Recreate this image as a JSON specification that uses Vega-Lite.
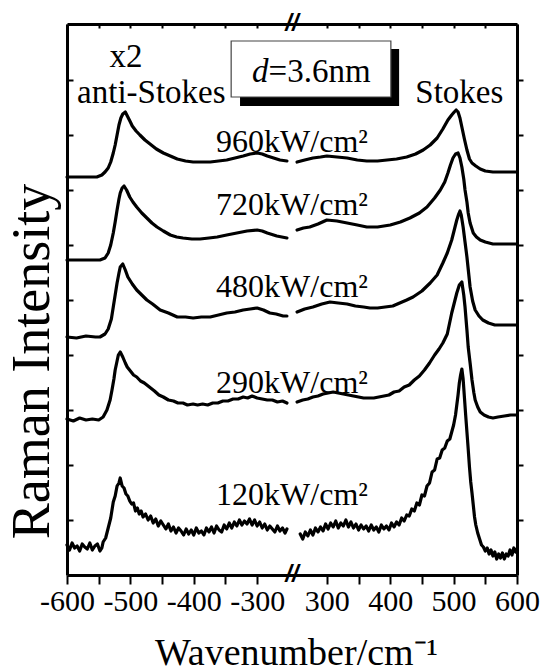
{
"$schema": "https://vega.github.io/schema/vega-lite/v6.json",
"width": 450,
"height": 551,
"autosize": {"type": "none"},
"padding": {"left": 67, "top": 24, "right": 25, "bottom": 97},
"background": "white",
"config": {
  "view": {"stroke": null},
  "font": "Liberation Serif",
  "axis": {"grid": false, "domainColor": "#000", "domainWidth": 3, "tickColor": "#000", "tickWidth": 2, "labelColor": "#000", "titleColor": "#000", "titleFontWeight": "normal", "labelFont": "Liberation Serif", "titleFont": "Liberation Serif"}
},
"datasets": {
"spec": [
{"s":"960L","x":-600,"y":398},{"s":"960L","x":-570,"y":398},{"s":"960L","x":-553,"y":398},{"s":"960L","x":-545,"y":400},{"s":"960L","x":-540,"y":403},{"s":"960L","x":-535,"y":407},{"s":"960L","x":-531,"y":413},{"s":"960L","x":-527,"y":422},{"s":"960L","x":-524,"y":430},{"s":"960L","x":-521,"y":440},{"s":"960L","x":-518,"y":450},{"s":"960L","x":-515,"y":457},{"s":"960L","x":-512,"y":461},{"s":"960L","x":-508,"y":463},{"s":"960L","x":-504,"y":458},{"s":"960L","x":-500,"y":453},{"s":"960L","x":-497,"y":449},{"s":"960L","x":-491,"y":444},{"s":"960L","x":-485,"y":440},{"s":"960L","x":-477,"y":435},{"s":"960L","x":-469,"y":431},{"s":"960L","x":-459,"y":426},{"s":"960L","x":-448,"y":422},{"s":"960L","x":-437,"y":419},{"s":"960L","x":-426,"y":416},{"s":"960L","x":-413,"y":414},{"s":"960L","x":-401,"y":413},{"s":"960L","x":-388,"y":413},{"s":"960L","x":-374,"y":413},{"s":"960L","x":-361,"y":414},{"s":"960L","x":-348,"y":415},{"s":"960L","x":-335,"y":417},{"s":"960L","x":-322,"y":419},{"s":"960L","x":-311,"y":421},{"s":"960L","x":-300,"y":422},{"s":"960L","x":-292,"y":421},{"s":"960L","x":-284,"y":419},{"s":"960L","x":-274,"y":417},{"s":"960L","x":-264,"y":415},{"s":"960L","x":-253,"y":414},
{"s":"960R","x":253,"y":413},{"s":"960R","x":265,"y":415},{"s":"960R","x":278,"y":417},{"s":"960R","x":290,"y":418},{"s":"960R","x":300,"y":419},{"s":"960R","x":316,"y":418},{"s":"960R","x":332,"y":417},{"s":"960R","x":348,"y":415},{"s":"960R","x":363,"y":414},{"s":"960R","x":380,"y":414},{"s":"960R","x":395,"y":415},{"s":"960R","x":410,"y":416},{"s":"960R","x":426,"y":418},{"s":"960R","x":440,"y":421},{"s":"960R","x":452,"y":425},{"s":"960R","x":463,"y":430},{"s":"960R","x":474,"y":437},{"s":"960R","x":483,"y":446},{"s":"960R","x":491,"y":455},{"s":"960R","x":497,"y":460},{"s":"960R","x":501,"y":463},{"s":"960R","x":504,"y":465},{"s":"960R","x":507,"y":463},{"s":"960R","x":510,"y":457},{"s":"960R","x":513,"y":448},{"s":"960R","x":517,"y":436},{"s":"960R","x":521,"y":425},{"s":"960R","x":525,"y":416},{"s":"960R","x":529,"y":412},{"s":"960R","x":535,"y":409},{"s":"960R","x":542,"y":406},{"s":"960R","x":550,"y":404},{"s":"960R","x":562,"y":403},{"s":"960R","x":580,"y":403},{"s":"960R","x":600,"y":403},
{"s":"720L","x":-600,"y":315},{"s":"720L","x":-570,"y":315},{"s":"720L","x":-548,"y":315},{"s":"720L","x":-540,"y":317},{"s":"720L","x":-535,"y":322},{"s":"720L","x":-531,"y":330},{"s":"720L","x":-527,"y":342},{"s":"720L","x":-524,"y":353},{"s":"720L","x":-521,"y":365},{"s":"720L","x":-518,"y":376},{"s":"720L","x":-516,"y":382},{"s":"720L","x":-513,"y":387},{"s":"720L","x":-510,"y":389},{"s":"720L","x":-506,"y":385},{"s":"720L","x":-501,"y":378},{"s":"720L","x":-496,"y":373},{"s":"720L","x":-490,"y":368},{"s":"720L","x":-482,"y":362},{"s":"720L","x":-474,"y":357},{"s":"720L","x":-466,"y":352},{"s":"720L","x":-458,"y":348},{"s":"720L","x":-448,"y":344},{"s":"720L","x":-437,"y":340},{"s":"720L","x":-427,"y":338},{"s":"720L","x":-417,"y":337},{"s":"720L","x":-403,"y":336},{"s":"720L","x":-390,"y":336},{"s":"720L","x":-376,"y":337},{"s":"720L","x":-363,"y":338},{"s":"720L","x":-348,"y":340},{"s":"720L","x":-332,"y":342},{"s":"720L","x":-316,"y":344},{"s":"720L","x":-300,"y":345},{"s":"720L","x":-292,"y":344},{"s":"720L","x":-284,"y":342},{"s":"720L","x":-269,"y":339},{"s":"720L","x":-253,"y":337},
{"s":"720R","x":253,"y":345},{"s":"720R","x":263,"y":347},{"s":"720R","x":273,"y":348},{"s":"720R","x":286,"y":351},{"s":"720R","x":300,"y":355},{"s":"720R","x":316,"y":354},{"s":"720R","x":332,"y":352},{"s":"720R","x":348,"y":350},{"s":"720R","x":363,"y":348},{"s":"720R","x":380,"y":348},{"s":"720R","x":400,"y":350},{"s":"720R","x":416,"y":353},{"s":"720R","x":431,"y":357},{"s":"720R","x":446,"y":362},{"s":"720R","x":458,"y":368},{"s":"720R","x":470,"y":377},{"s":"720R","x":479,"y":385},{"s":"720R","x":486,"y":393},{"s":"720R","x":491,"y":402},{"s":"720R","x":495,"y":410},{"s":"720R","x":499,"y":417},{"s":"720R","x":503,"y":421},{"s":"720R","x":507,"y":422},{"s":"720R","x":510,"y":417},{"s":"720R","x":513,"y":408},{"s":"720R","x":516,"y":396},{"s":"720R","x":518,"y":385},{"s":"720R","x":521,"y":373},{"s":"720R","x":523,"y":362},{"s":"720R","x":526,"y":352},{"s":"720R","x":531,"y":342},{"s":"720R","x":536,"y":338},{"s":"720R","x":542,"y":335},{"s":"720R","x":550,"y":333},{"s":"720R","x":562,"y":331},{"s":"720R","x":580,"y":331},{"s":"720R","x":600,"y":331},
{"s":"480L","x":-600,"y":238},{"s":"480L","x":-585,"y":237},{"s":"480L","x":-570,"y":239},{"s":"480L","x":-555,"y":238},{"s":"480L","x":-548,"y":238},{"s":"480L","x":-540,"y":241},{"s":"480L","x":-535,"y":246},{"s":"480L","x":-530,"y":256},{"s":"480L","x":-527,"y":268},{"s":"480L","x":-524,"y":280},{"s":"480L","x":-521,"y":292},{"s":"480L","x":-518,"y":302},{"s":"480L","x":-516,"y":308},{"s":"480L","x":-512,"y":311},{"s":"480L","x":-508,"y":305},{"s":"480L","x":-504,"y":298},{"s":"480L","x":-497,"y":291},{"s":"480L","x":-490,"y":285},{"s":"480L","x":-482,"y":280},{"s":"480L","x":-474,"y":275},{"s":"480L","x":-465,"y":271},{"s":"480L","x":-453,"y":265},{"s":"480L","x":-440,"y":262},{"s":"480L","x":-426,"y":258},{"s":"480L","x":-413,"y":258},{"s":"480L","x":-401,"y":257},{"s":"480L","x":-388,"y":258},{"s":"480L","x":-374,"y":258},{"s":"480L","x":-361,"y":260},{"s":"480L","x":-348,"y":262},{"s":"480L","x":-335,"y":263},{"s":"480L","x":-322,"y":265},{"s":"480L","x":-311,"y":266},{"s":"480L","x":-300,"y":267},{"s":"480L","x":-290,"y":265},{"s":"480L","x":-280,"y":262},{"s":"480L","x":-270,"y":261},{"s":"480L","x":-259,"y":259},{"s":"480L","x":-253,"y":259},
{"s":"480R","x":253,"y":263},{"s":"480R","x":265,"y":266},{"s":"480R","x":278,"y":268},{"s":"480R","x":292,"y":271},{"s":"480R","x":305,"y":273},{"s":"480R","x":318,"y":272},{"s":"480R","x":332,"y":271},{"s":"480R","x":345,"y":269},{"s":"480R","x":358,"y":268},{"s":"480R","x":368,"y":267},{"s":"480R","x":380,"y":267},{"s":"480R","x":392,"y":268},{"s":"480R","x":404,"y":269},{"s":"480R","x":415,"y":272},{"s":"480R","x":426,"y":275},{"s":"480R","x":436,"y":278},{"s":"480R","x":450,"y":284},{"s":"480R","x":463,"y":292},{"s":"480R","x":474,"y":300},{"s":"480R","x":483,"y":312},{"s":"480R","x":490,"y":322},{"s":"480R","x":497,"y":335},{"s":"480R","x":501,"y":345},{"s":"480R","x":505,"y":355},{"s":"480R","x":508,"y":361},{"s":"480R","x":510,"y":364},{"s":"480R","x":512,"y":360},{"s":"480R","x":515,"y":348},{"s":"480R","x":518,"y":333},{"s":"480R","x":521,"y":318},{"s":"480R","x":524,"y":300},{"s":"480R","x":526,"y":288},{"s":"480R","x":530,"y":274},{"s":"480R","x":534,"y":265},{"s":"480R","x":540,"y":259},{"s":"480R","x":546,"y":255},{"s":"480R","x":555,"y":252},{"s":"480R","x":565,"y":250},{"s":"480R","x":580,"y":250},{"s":"480R","x":600,"y":250},
{"s":"290L","x":-600,"y":156},{"s":"290L","x":-590,"y":154},{"s":"290L","x":-580,"y":157},{"s":"290L","x":-570,"y":155},{"s":"290L","x":-560,"y":156},{"s":"290L","x":-550,"y":155},{"s":"290L","x":-543,"y":158},{"s":"290L","x":-537,"y":165},{"s":"290L","x":-532,"y":175},{"s":"290L","x":-529,"y":185},{"s":"290L","x":-526,"y":196},{"s":"290L","x":-524,"y":205},{"s":"290L","x":-521,"y":214},{"s":"290L","x":-519,"y":220},{"s":"290L","x":-516,"y":223},{"s":"290L","x":-512,"y":218},{"s":"290L","x":-508,"y":212},{"s":"290L","x":-505,"y":208},{"s":"290L","x":-500,"y":204},{"s":"290L","x":-495,"y":200},{"s":"290L","x":-490,"y":198},{"s":"290L","x":-484,"y":194},{"s":"290L","x":-478,"y":192},{"s":"290L","x":-470,"y":188},{"s":"290L","x":-462,"y":184},{"s":"290L","x":-455,"y":180},{"s":"290L","x":-448,"y":178},{"s":"290L","x":-440,"y":175},{"s":"290L","x":-432,"y":174},{"s":"290L","x":-425,"y":172},{"s":"290L","x":-417,"y":172},{"s":"290L","x":-410,"y":170},{"s":"290L","x":-401,"y":171},{"s":"290L","x":-394,"y":170},{"s":"290L","x":-386,"y":171},{"s":"290L","x":-378,"y":170},{"s":"290L","x":-370,"y":172},{"s":"290L","x":-362,"y":172},{"s":"290L","x":-354,"y":174},{"s":"290L","x":-346,"y":174},{"s":"290L","x":-338,"y":176},{"s":"290L","x":-330,"y":176},{"s":"290L","x":-322,"y":178},{"s":"290L","x":-315,"y":177},{"s":"290L","x":-308,"y":179},{"s":"290L","x":-300,"y":177},{"s":"290L","x":-292,"y":176},{"s":"290L","x":-284,"y":175},{"s":"290L","x":-276,"y":175},{"s":"290L","x":-268,"y":173},{"s":"290L","x":-260,"y":174},{"s":"290L","x":-253,"y":172},
{"s":"290R","x":253,"y":173},{"s":"290R","x":262,"y":175},{"s":"290R","x":270,"y":176},{"s":"290R","x":278,"y":178},{"s":"290R","x":286,"y":179},{"s":"290R","x":294,"y":181},{"s":"290R","x":302,"y":182},{"s":"290R","x":310,"y":183},{"s":"290R","x":318,"y":182},{"s":"290R","x":326,"y":181},{"s":"290R","x":334,"y":180},{"s":"290R","x":342,"y":179},{"s":"290R","x":350,"y":178},{"s":"290R","x":358,"y":177},{"s":"290R","x":366,"y":177},{"s":"290R","x":374,"y":177},{"s":"290R","x":382,"y":178},{"s":"290R","x":390,"y":179},{"s":"290R","x":398,"y":180},{"s":"290R","x":406,"y":183},{"s":"290R","x":414,"y":184},{"s":"290R","x":422,"y":188},{"s":"290R","x":430,"y":190},{"s":"290R","x":438,"y":195},{"s":"290R","x":446,"y":199},{"s":"290R","x":454,"y":205},{"s":"290R","x":462,"y":212},{"s":"290R","x":470,"y":220},{"s":"290R","x":477,"y":226},{"s":"290R","x":483,"y":232},{"s":"290R","x":490,"y":241},{"s":"290R","x":497,"y":262},{"s":"290R","x":501,"y":272},{"s":"290R","x":505,"y":282},{"s":"290R","x":509,"y":290},{"s":"290R","x":513,"y":293},{"s":"290R","x":516,"y":280},{"s":"290R","x":518,"y":268},{"s":"290R","x":521,"y":245},{"s":"290R","x":523,"y":228},{"s":"290R","x":526,"y":212},{"s":"290R","x":529,"y":195},{"s":"290R","x":532,"y":182},{"s":"290R","x":534,"y":175},{"s":"290R","x":538,"y":168},{"s":"290R","x":542,"y":163},{"s":"290R","x":548,"y":160},{"s":"290R","x":555,"y":158},{"s":"290R","x":562,"y":157},{"s":"290R","x":570,"y":158},{"s":"290R","x":580,"y":159},{"s":"290R","x":590,"y":160},{"s":"290R","x":600,"y":160},
{"s":"120L","x":-600,"y":30},{"s":"120L","x":-596,"y":25},{"s":"120L","x":-592,"y":32},{"s":"120L","x":-588,"y":27},{"s":"120L","x":-584,"y":29},{"s":"120L","x":-580,"y":24},{"s":"120L","x":-576,"y":31},{"s":"120L","x":-572,"y":28},{"s":"120L","x":-568,"y":26},{"s":"120L","x":-564,"y":32},{"s":"120L","x":-560,"y":25},{"s":"120L","x":-556,"y":29},{"s":"120L","x":-552,"y":31},{"s":"120L","x":-548,"y":24},{"s":"120L","x":-545,"y":27},{"s":"120L","x":-543,"y":33},{"s":"120L","x":-539,"y":37},{"s":"120L","x":-535,"y":47},{"s":"120L","x":-531,"y":57},{"s":"120L","x":-527,"y":73},{"s":"120L","x":-524,"y":79},{"s":"120L","x":-521,"y":89},{"s":"120L","x":-518,"y":92},{"s":"120L","x":-516,"y":97},{"s":"120L","x":-513,"y":89},{"s":"120L","x":-510,"y":87},{"s":"120L","x":-507,"y":81},{"s":"120L","x":-504,"y":79},{"s":"120L","x":-501,"y":74},{"s":"120L","x":-498,"y":71},{"s":"120L","x":-495,"y":72},{"s":"120L","x":-492,"y":64},{"s":"120L","x":-489,"y":67},{"s":"120L","x":-486,"y":61},{"s":"120L","x":-483,"y":64},{"s":"120L","x":-480,"y":58},{"s":"120L","x":-476,"y":61},{"s":"120L","x":-472,"y":55},{"s":"120L","x":-468,"y":59},{"s":"120L","x":-464,"y":52},{"s":"120L","x":-460,"y":56},{"s":"120L","x":-456,"y":49},{"s":"120L","x":-452,"y":54},{"s":"120L","x":-448,"y":50},{"s":"120L","x":-444,"y":46},{"s":"120L","x":-440,"y":51},{"s":"120L","x":-436,"y":44},{"s":"120L","x":-432,"y":48},{"s":"120L","x":-428,"y":42},{"s":"120L","x":-424,"y":47},{"s":"120L","x":-420,"y":44},{"s":"120L","x":-416,"y":40},{"s":"120L","x":-412,"y":46},{"s":"120L","x":-408,"y":41},{"s":"120L","x":-404,"y":45},{"s":"120L","x":-400,"y":40},{"s":"120L","x":-396,"y":47},{"s":"120L","x":-392,"y":42},{"s":"120L","x":-388,"y":44},{"s":"120L","x":-384,"y":40},{"s":"120L","x":-380,"y":47},{"s":"120L","x":-376,"y":43},{"s":"120L","x":-372,"y":48},{"s":"120L","x":-368,"y":42},{"s":"120L","x":-364,"y":49},{"s":"120L","x":-360,"y":45},{"s":"120L","x":-356,"y":43},{"s":"120L","x":-352,"y":50},{"s":"120L","x":-348,"y":46},{"s":"120L","x":-344,"y":52},{"s":"120L","x":-340,"y":47},{"s":"120L","x":-336,"y":53},{"s":"120L","x":-332,"y":49},{"s":"120L","x":-328,"y":55},{"s":"120L","x":-324,"y":50},{"s":"120L","x":-320,"y":54},{"s":"120L","x":-316,"y":51},{"s":"120L","x":-312,"y":56},{"s":"120L","x":-308,"y":50},{"s":"120L","x":-304,"y":55},{"s":"120L","x":-300,"y":49},{"s":"120L","x":-296,"y":53},{"s":"120L","x":-292,"y":47},{"s":"120L","x":-288,"y":51},{"s":"120L","x":-284,"y":45},{"s":"120L","x":-280,"y":49},{"s":"120L","x":-276,"y":46},{"s":"120L","x":-272,"y":43},{"s":"120L","x":-268,"y":49},{"s":"120L","x":-264,"y":44},{"s":"120L","x":-260,"y":47},{"s":"120L","x":-256,"y":42},{"s":"120L","x":-253,"y":46},
{"s":"120R","x":258,"y":41},{"s":"120R","x":262,"y":36},{"s":"120R","x":266,"y":43},{"s":"120R","x":270,"y":39},{"s":"120R","x":274,"y":45},{"s":"120R","x":278,"y":40},{"s":"120R","x":282,"y":47},{"s":"120R","x":286,"y":43},{"s":"120R","x":290,"y":48},{"s":"120R","x":294,"y":44},{"s":"120R","x":298,"y":51},{"s":"120R","x":302,"y":46},{"s":"120R","x":306,"y":52},{"s":"120R","x":310,"y":48},{"s":"120R","x":314,"y":54},{"s":"120R","x":318,"y":47},{"s":"120R","x":322,"y":52},{"s":"120R","x":326,"y":49},{"s":"120R","x":330,"y":55},{"s":"120R","x":334,"y":48},{"s":"120R","x":338,"y":53},{"s":"120R","x":342,"y":47},{"s":"120R","x":346,"y":51},{"s":"120R","x":350,"y":45},{"s":"120R","x":354,"y":50},{"s":"120R","x":358,"y":46},{"s":"120R","x":362,"y":49},{"s":"120R","x":366,"y":44},{"s":"120R","x":370,"y":50},{"s":"120R","x":374,"y":45},{"s":"120R","x":378,"y":48},{"s":"120R","x":382,"y":43},{"s":"120R","x":386,"y":50},{"s":"120R","x":390,"y":46},{"s":"120R","x":394,"y":49},{"s":"120R","x":398,"y":45},{"s":"120R","x":402,"y":52},{"s":"120R","x":406,"y":48},{"s":"120R","x":410,"y":53},{"s":"120R","x":414,"y":50},{"s":"120R","x":418,"y":57},{"s":"120R","x":422,"y":54},{"s":"120R","x":426,"y":60},{"s":"120R","x":430,"y":59},{"s":"120R","x":434,"y":66},{"s":"120R","x":438,"y":64},{"s":"120R","x":442,"y":72},{"s":"120R","x":446,"y":70},{"s":"120R","x":450,"y":80},{"s":"120R","x":454,"y":79},{"s":"120R","x":458,"y":89},{"s":"120R","x":462,"y":92},{"s":"120R","x":466,"y":103},{"s":"120R","x":470,"y":105},{"s":"120R","x":474,"y":116},{"s":"120R","x":478,"y":117},{"s":"120R","x":482,"y":125},{"s":"120R","x":486,"y":127},{"s":"120R","x":490,"y":134},{"s":"120R","x":494,"y":136},{"s":"120R","x":497,"y":143},{"s":"120R","x":500,"y":150},{"s":"120R","x":503,"y":160},{"s":"120R","x":505,"y":170},{"s":"120R","x":507,"y":180},{"s":"120R","x":509,"y":192},{"s":"120R","x":511,"y":200},{"s":"120R","x":513,"y":206},{"s":"120R","x":515,"y":196},{"s":"120R","x":517,"y":178},{"s":"120R","x":519,"y":160},{"s":"120R","x":521,"y":143},{"s":"120R","x":523,"y":126},{"s":"120R","x":525,"y":108},{"s":"120R","x":527,"y":93},{"s":"120R","x":529,"y":82},{"s":"120R","x":531,"y":70},{"s":"120R","x":533,"y":58},{"s":"120R","x":535,"y":50},{"s":"120R","x":538,"y":42},{"s":"120R","x":541,"y":36},{"s":"120R","x":544,"y":30},{"s":"120R","x":547,"y":28},{"s":"120R","x":550,"y":24},{"s":"120R","x":553,"y":27},{"s":"120R","x":556,"y":21},{"s":"120R","x":559,"y":25},{"s":"120R","x":562,"y":19},{"s":"120R","x":565,"y":23},{"s":"120R","x":568,"y":16},{"s":"120R","x":571,"y":21},{"s":"120R","x":574,"y":17},{"s":"120R","x":577,"y":22},{"s":"120R","x":580,"y":16},{"s":"120R","x":583,"y":21},{"s":"120R","x":586,"y":19},{"s":"120R","x":589,"y":25},{"s":"120R","x":592,"y":20},{"s":"120R","x":595,"y":27},{"s":"120R","x":598,"y":23},{"s":"120R","x":600,"y":26}
]
},
"resolve": {"axis": {"x": "independent", "y": "independent"}},
"layer": [
{
  "data": {"name": "spec"},
  "mark": {"type": "line", "color": "#000", "strokeWidth": 3.2, "strokeJoin": "round", "strokeCap": "round"},
  "encoding": {
    "x": {"field": "x", "type": "quantitative",
      "scale": {"domain": [-600, -245, 245, 600], "range": [0, 225, 225, 450], "nice": false, "zero": false},
      "axis": {"orient": "bottom", "values": [-600,-550,-500,-450,-400,-350,-300,300,350,400,450,500,550,600],
        "labelExpr": "datum.value % 100 == 0 ? toString(datum.value) : ''",
        "tickSize": 9, "labelFontSize": 30, "labelPadding": 2, "labelFlush": false, "labelOverlap": false,
        "title": "Wavenumber/cm⁻¹", "titleFontSize": 38, "titleBaseline": "alphabetic", "titleY": 89, "titleX": 229}},
    "y": {"field": "y", "type": "quantitative",
      "scale": {"domain": [0, 551], "nice": false, "zero": false},
      "axis": {"orient": "left", "values": [55,110,165,220,275,330,385,440,495], "tickSize": -6, "labels": false,
        "title": "Raman Intensity", "titleFontSize": 54, "titleAngle": 270, "titleAlign": "center", "titleBaseline": "alphabetic", "titleX": -19, "titleY": 337}},
    "detail": {"field": "s"}
  }
},
{
  "data": {"values": [{"x1": -327, "x2": 414, "y1": 526, "y2": 469}]},
  "mark": {"type": "rect", "fill": "#000"},
  "encoding": {
    "x": {"field": "x1", "type": "quantitative",
      "scale": {"domain": [-600, -245, 245, 600], "range": [0, 225, 225, 450], "nice": false, "zero": false},
      "axis": {"orient": "top", "values": [-600,-550,-500,-450,-400,-350,-300,300,350,400,450,500,550,600], "labels": false, "tickSize": -4, "title": null}},
    "x2": {"field": "x2"},
    "y": {"field": "y1", "type": "quantitative", "scale": {"domain": [0, 551], "nice": false, "zero": false},
      "axis": {"orient": "right", "values": [55,110,165,220,275,330,385,440,495], "tickSize": 6, "labels": false, "title": null}},
    "y2": {"field": "y2"}
  }
},
{
  "data": {"values": [{"x1": -341, "x2": 401, "y1": 534, "y2": 478}]},
  "mark": {"type": "rect", "fill": "#fff", "stroke": "#444", "strokeWidth": 1.2},
  "encoding": {
    "x": {"field": "x1", "type": "quantitative", "axis": null},
    "x2": {"field": "x2"},
    "y": {"field": "y1", "type": "quantitative", "axis": null},
    "y2": {"field": "y2"}
  }
},
{
  "data": {"values": [{"x": 0, "y": 423, "t": "960kW/cm²"}, {"x": 0, "y": 360, "t": "720kW/cm²"}, {"x": 0, "y": 278, "t": "480kW/cm²"}, {"x": 0, "y": 182, "t": "290kW/cm²"}, {"x": 0, "y": 70, "t": "120kW/cm²"}]},
  "mark": {"type": "text", "font": "Liberation Serif", "color": "#000", "fontSize": 32, "align": "center", "baseline": "alphabetic"},
  "encoding": {
    "x": {"field": "x", "type": "quantitative", "axis": null},
    "y": {"field": "y", "type": "quantitative", "axis": null},
    "text": {"field": "t"}
  }
},
{
  "data": {"values": [{"x": -507, "y": 508, "t": "x2"}, {"x": -467, "y": 472, "t": "anti-Stokes"}, {"x": 509, "y": 472, "t": "Stokes"}]},
  "mark": {"type": "text", "font": "Liberation Serif", "color": "#000", "fontSize": 33, "align": "center", "baseline": "alphabetic"},
  "encoding": {
    "x": {"field": "x", "type": "quantitative", "axis": null},
    "y": {"field": "y", "type": "quantitative", "axis": null},
    "text": {"field": "t"}
  }
},
{
  "data": {"values": [{"x": -282, "y": 493, "t": "d"}]},
  "mark": {"type": "text", "font": "Liberation Serif", "color": "#000", "fontSize": 33, "fontStyle": "italic", "align": "right", "baseline": "alphabetic"},
  "encoding": {
    "x": {"field": "x", "type": "quantitative", "axis": null},
    "y": {"field": "y", "type": "quantitative", "axis": null},
    "text": {"field": "t"}
  }
},
{
  "data": {"values": [{"x": -282, "y": 493, "t": "=3.6nm"}]},
  "mark": {"type": "text", "font": "Liberation Serif", "color": "#000", "fontSize": 33, "align": "left", "baseline": "alphabetic"},
  "encoding": {
    "x": {"field": "x", "type": "quantitative", "axis": null},
    "y": {"field": "y", "type": "quantitative", "axis": null},
    "text": {"field": "t"}
  }
},
{
  "data": {"values": [{"x": 0, "y": 551, "t": "//"}, {"x": 0, "y": 0, "t": "//"}]},
  "mark": {"type": "text", "font": "Liberation Sans", "color": "#000", "fontSize": 24, "fontWeight": "bold", "fontStyle": "italic", "align": "center", "baseline": "middle"},
  "encoding": {
    "x": {"field": "x", "type": "quantitative", "axis": null},
    "y": {"field": "y", "type": "quantitative", "axis": null},
    "text": {"field": "t"}
  }
}
]
}
